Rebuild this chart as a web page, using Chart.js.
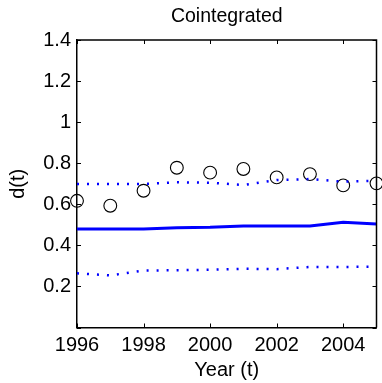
<!DOCTYPE html>
<html>
<head>
<meta charset="utf-8">
<script src="https://cdn.jsdelivr.net/npm/chart.js@4"></script>
<style>
html,body{margin:0;padding:0;background:#fff;overflow:hidden;}
canvas{display:block;}
</style>
</head>
<body>
<canvas id="c" width="384" height="383"></canvas>
<script>
const years    = [1996, 1997, 1998, 1999, 2000, 2001, 2002, 2003, 2004, 2005];
const observed = [0.617, 0.593, 0.666, 0.778, 0.754, 0.772, 0.731, 0.747, 0.692, 0.702];
const fitted   = [0.480, 0.480, 0.480, 0.486, 0.488, 0.494, 0.494, 0.494, 0.512, 0.504];
const upper    = [0.699, 0.699, 0.699, 0.707, 0.705, 0.694, 0.718, 0.723, 0.710, 0.715];
const lower    = [0.264, 0.254, 0.277, 0.279, 0.281, 0.286, 0.284, 0.295, 0.295, 0.296];
const xTicks   = [1996, 1998, 2000, 2002, 2004];
const yTicks   = [0, 0.2, 0.4, 0.6, 0.8, 1, 1.2, 1.4];

const pts = arr => years.map((y, i) => ({x: y, y: arr[i]}));
const FONT = "'Liberation Sans', Arial, Helvetica, sans-serif";

const inwardTicks = {
  id: 'inwardTicks',
  afterDraw(chart) {
    const {ctx, chartArea: a, scales: {x, y}} = chart;
    ctx.save();
    ctx.strokeStyle = '#000';
    ctx.lineWidth = 1;
    ctx.beginPath();
    xTicks.forEach(v => {
      const px = Math.round(x.getPixelForValue(v)) + 0.5;
      ctx.moveTo(px, a.bottom); ctx.lineTo(px, a.bottom - 4);
      ctx.moveTo(px, a.top); ctx.lineTo(px, a.top + 4);
    });
    yTicks.forEach(v => {
      const py = Math.round(y.getPixelForValue(v)) + 0.5;
      ctx.moveTo(a.left, py); ctx.lineTo(a.left + 4, py);
      ctx.moveTo(a.right, py); ctx.lineTo(a.right - 4, py);
    });
    ctx.stroke();
    ctx.lineWidth = 1.5;
    ctx.beginPath();
    ctx.moveTo(a.left, a.top); ctx.lineTo(a.right, a.top); ctx.lineTo(a.right, a.bottom);
    ctx.stroke();
    ctx.restore();
  }
};

new Chart(document.getElementById('c'), {
  type: 'line',
  data: {
    datasets: [
      {data: pts(upper), borderColor: '#0000ff', borderWidth: 2.5, borderDash: [2, 8], pointRadius: 0, tension: 0, fill: false},
      {data: pts(lower), borderColor: '#0000ff', borderWidth: 2.5, borderDash: [2, 8], pointRadius: 0, tension: 0, fill: false},
      {data: pts(fitted), borderColor: '#0000ff', borderWidth: 3, pointRadius: 0, tension: 0, fill: false},
      {data: pts(observed), showLine: false, pointStyle: 'circle', pointRadius: 6.4, pointBorderColor: '#000', pointBackgroundColor: 'rgba(0,0,0,0)', pointBorderWidth: 1.1, clip: false}
    ]
  },
  options: {
    responsive: false,
    animation: false,
    events: [],
    layout: {padding: {left: 0, right: 1, top: 0, bottom: 0}},
    plugins: {
      legend: {display: false},
      tooltip: {enabled: false},
      title: {display: false}
    },
    scales: {
      x: {
        type: 'linear', min: 1996, max: 2005,
        afterBuildTicks: s => { s.ticks = xTicks.map(v => ({value: v})); },
        afterFit: s => { s.height = 55.5; },
        grid: {display: false, drawTicks: false},
        border: {display: true, color: '#000', width: 1.5},
        ticks: {color: '#000', font: {family: FONT, size: 20}, padding: 6, maxRotation: 0, autoSkip: false, callback: v => String(v)},
        title: {display: true, text: 'Year (t)', color: '#000', font: {family: FONT, size: 20}, padding: {top: 0, bottom: 0.5}}
      },
      top: {
        type: 'linear', position: 'top', min: 1996, max: 2005,
        afterFit: s => { s.height = 40; },
        grid: {display: false, drawTicks: false},
        border: {display: false},
        ticks: {display: false},
        title: {display: true, text: 'Cointegrated', color: '#000', font: {family: FONT, size: 19.5}, padding: {top: 5, bottom: 0}}
      },
      y: {
        type: 'linear', min: 0, max: 1.4,
        afterBuildTicks: s => { s.ticks = yTicks.map(v => ({value: v})); },
        afterFit: s => { s.width = 77; },
        grid: {display: false, drawTicks: false},
        border: {display: true, color: '#000', width: 1.5},
        ticks: {color: '#000', font: {family: FONT, size: 20}, padding: 6, autoSkip: false, callback: v => v === 0 ? '' : String(+v.toFixed(1))},
        title: {display: true, text: 'd(t)', color: '#000', font: {family: FONT, size: 20}, padding: {top: 6, bottom: 0}}
      }
    }
  },
  plugins: [inwardTicks]
});
</script>
</body>
</html>
